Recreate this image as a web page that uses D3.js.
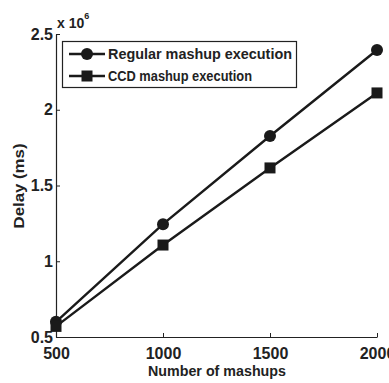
<!DOCTYPE html>
<html>
<head>
<meta charset="utf-8">
<script src="https://cdn.jsdelivr.net/npm/d3@7"></script>
<style>
  body { margin: 0; background: #fff; }
  text { font-family: "Liberation Sans Narrow", "Liberation Sans", Arial, sans-serif; font-weight: bold; fill: #222; }
</style>
</head>
<body>
<svg id="svg"></svg>
<script>
// data
let mashups = [500, 1000, 1500, 2000];
let regular = [0.60, 1.245, 1.827, 2.394];   // x 10^6 ms
let ccd = [0.57, 1.107, 1.616, 2.111];
let seriesNames = ["Regular mashup execution", "CCD mashup execution"];
let xTicks = [500, 1000, 1500, 2000];
let yTicks = [0.5, 1, 1.5, 2, 2.5];

let width = 389;
let height = 383;
let padLeft = 56, padRight = 377, padTop = 34, padBottom = 337;

let svg = d3.select("#svg").attr("width", width).attr("height", height);

let xScale = d3.scaleLinear().domain([500, 2000]).range([padLeft, padRight]);
let yScale = d3.scaleLinear().domain([0.5, 2.5]).range([padBottom, padTop]);

// axes (inward ticks, matlab style)
let xAxis = d3.axisBottom(xScale).tickValues(xTicks).tickSize(-4).tickSizeOuter(0).tickPadding(11)
  .tickFormat(d3.format("d"));
let yAxis = d3.axisLeft(yScale).tickValues(yTicks).tickSize(-4).tickSizeOuter(0).tickPadding(3)
  .tickFormat(d3.format("~g"));

let gx = svg.append("g").attr("transform", "translate(0," + padBottom + ")").call(xAxis);
let gy = svg.append("g").attr("transform", "translate(" + padLeft + ",0)").call(yAxis);

[gx, gy].forEach(g => {
  g.attr("font-family", null).attr("font-size", null);
  g.select(".domain").attr("stroke", "#222").attr("stroke-width", 1.2);
  g.selectAll(".tick line").attr("stroke", "#222");
  g.selectAll(".tick text").style("font-size", "16px").attr("fill", "#222");
});

// exponent
let expo = svg.append("text").attr("x", 57).attr("y", 28).style("font-size", "14px");
expo.append("tspan").text("x 10");
expo.append("tspan").attr("dy", -9).style("font-size", "9px").text("6");

// axis labels
svg.append("text").attr("x", 217).attr("y", 376).attr("text-anchor", "middle")
  .style("font-size", "15px").attr("textLength", 138).attr("lengthAdjust", "spacingAndGlyphs")
  .text("Number of mashups");
svg.append("text").attr("transform", "translate(24,186) rotate(-90)").attr("text-anchor", "middle")
  .style("font-size", "15px").attr("textLength", 85).attr("lengthAdjust", "spacingAndGlyphs")
  .text("Delay (ms)");

// lines
let line = d3.line().x((d, i) => xScale(mashups[i])).y(d => yScale(d));
let allSeries = [regular, ccd];
allSeries.forEach((s, k) => {
  svg.append("path").attr("d", line(s)).attr("fill", "none")
    .attr("stroke", "#1a1a1a").attr("stroke-width", 2.4);
  s.forEach((v, i) => {
    let cx = xScale(mashups[i]), cy = yScale(v);
    if (k === 0) {
      svg.append("circle").attr("cx", cx).attr("cy", cy).attr("r", 6).attr("fill", "#1a1a1a");
    } else {
      svg.append("rect").attr("x", cx - 5.5).attr("y", cy - 5.5).attr("width", 11).attr("height", 11).attr("fill", "#1a1a1a");
    }
  });
});

// legend
let lg = svg.append("g");
lg.append("rect").attr("x", 62.5).attr("y", 41.5).attr("width", 234).attr("height", 46)
  .attr("fill", "#fff").attr("stroke", "#222").attr("stroke-width", 1.2);
seriesNames.forEach((name, k) => {
  let y = k === 0 ? 54 : 76;
  lg.append("line").attr("x1", 69).attr("x2", 105).attr("y1", y).attr("y2", y)
    .attr("stroke", "#1a1a1a").attr("stroke-width", 2.4);
  if (k === 0) lg.append("circle").attr("cx", 87).attr("cy", y).attr("r", 6).attr("fill", "#1a1a1a");
  else lg.append("rect").attr("x", 81.5).attr("y", y - 5.5).attr("width", 11).attr("height", 11).attr("fill", "#1a1a1a");
  lg.append("text").attr("x", 108).attr("y", y + 5).style("font-size", "15px")
    .attr("textLength", k === 0 ? 184 : 144).attr("lengthAdjust", "spacingAndGlyphs").text(name);
});
</script>
</body>
</html>
